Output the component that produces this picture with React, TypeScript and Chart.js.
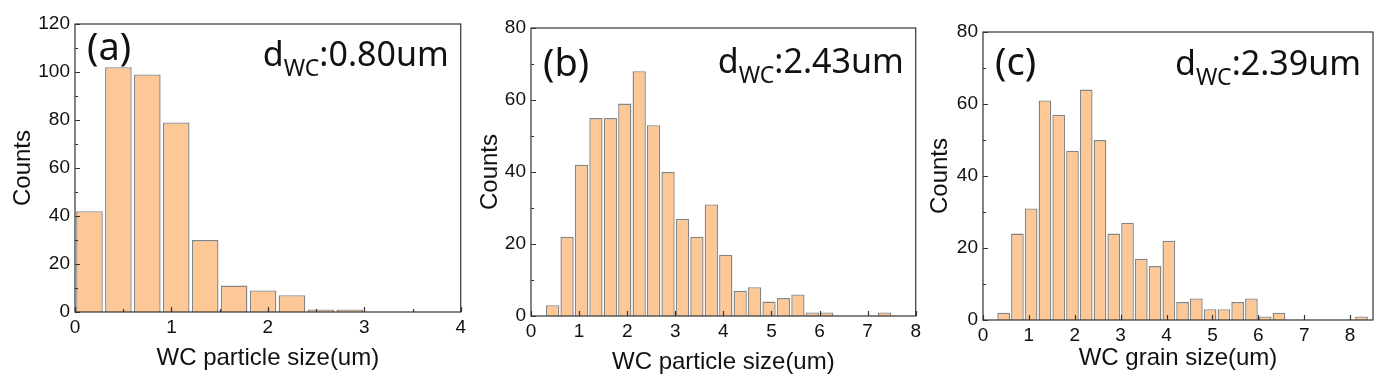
import React, { useEffect, useRef } from "react";
import { Chart, registerables } from "chart.js";

Chart.register(...registerables);

// ---------- data ----------
const binCentersA = [0.15, 0.45, 0.75, 1.05, 1.35, 1.65, 1.95, 2.25, 2.55, 2.85];
const countsA = [42, 102, 99, 79, 30, 11, 9, 7, 1, 1];

const binCentersB = [
  0.45, 0.75, 1.05, 1.35, 1.65, 1.95, 2.25, 2.55, 2.85, 3.15, 3.45, 3.75,
  4.05, 4.35, 4.65, 4.95, 5.25, 5.55, 5.85, 6.15, 6.45, 6.75, 7.05, 7.35,
];
const countsB = [
  3, 22, 42, 55, 55, 59, 68, 53, 40, 27, 22, 31, 17, 7, 8, 4, 5, 6, 1, 1, 0, 0, 0, 1,
];

const binCentersC = [
  0.45, 0.75, 1.05, 1.35, 1.65, 1.95, 2.25, 2.55, 2.85, 3.15, 3.45, 3.75, 4.05,
  4.35, 4.65, 4.95, 5.25, 5.55, 5.85, 6.15, 6.45, 6.75, 7.05, 7.35, 7.65, 7.95, 8.25,
];
const countsC = [
  2, 24, 31, 61, 57, 47, 64, 50, 24, 27, 17, 15, 22, 5, 6, 3, 3, 5, 6, 1, 2, 0, 0, 0, 0, 0, 1,
];

const panelLabels = ["(a)", "(b)", "(c)"];
const meanValues = ["0.80um", "2.43um", "2.39um"];
const xTitles = ["WC particle size(um)", "WC particle size(um)", "WC grain size(um)"];
const yTitle = "Counts";
const xMaxes = [4, 8, 8.5];
const yMaxes = [120, 80, 80];
const yStep = 20;
const xStep = 1;

// ---------- layout (page pixels) ----------
type Layout = {
  left: number;
  width: number;
  yW: number;
  xH: number;
  padTop: number;
  padRight: number;
  yTitlePad: number;
  xTitlePad: number;
  labelBase: number;
  dBase: number;
  xMinor: boolean;
};

const layouts: Layout[] = [
  { left: 0, width: 470, yW: 75, xH: 72, padTop: 24, padRight: 7, yTitlePad: 9, xTitlePad: 11, labelBase: 60, dBase: 66, xMinor: true },
  { left: 470, width: 455, yW: 61, xH: 68, padTop: 28, padRight: 6, yTitlePad: 6, xTitlePad: 7, labelBase: 76, dBase: 73, xMinor: false },
  { left: 925, width: 464, yW: 58, xH: 64, padTop: 32, padRight: 16, yTitlePad: 1, xTitlePad: 11, labelBase: 75, dBase: 75, xMinor: false },
];

const FRAME = "#333333";
const TICK_FONT = { family: "'Liberation Sans', Arial, sans-serif", size: 19 };
const TITLE_FONT = { family: "'Liberation Sans', Arial, sans-serif", size: 24 };
const ANNOT_FAMILY = "'Noto Sans', 'Open Sans', sans-serif";

function makePlugin(idx: number) {
  return {
    id: "frameAndText" + idx,
    afterDraw(chart: any) {
      const { ctx, chartArea } = chart;
      const { left, right, top, bottom } = chartArea;
      const xs = chart.scales.x;
      const ys = chart.scales.y;
      const lay = layouts[idx];
      ctx.save();
      ctx.strokeStyle = FRAME;
      ctx.lineWidth = 1.2;
      // ticks inward
      const xt = xs.ticks.map((t: any) => t.value);
      ctx.beginPath();
      xt.forEach((v: number) => {
        const px = Math.round(xs.getPixelForValue(v)) + 0.5;
        ctx.moveTo(px, bottom);
        ctx.lineTo(px, bottom - 5);
      });
      if (lay.xMinor) {
        for (let i = 0; i < xt.length - 1; i++) {
          const px = Math.round(xs.getPixelForValue((xt[i] + xt[i + 1]) / 2)) + 0.5;
          ctx.moveTo(px, bottom);
          ctx.lineTo(px, bottom - 3);
        }
      }
      const yt = ys.ticks.map((t: any) => t.value);
      yt.forEach((v: number) => {
        const py = Math.round(ys.getPixelForValue(v)) + 0.5;
        ctx.moveTo(left, py);
        ctx.lineTo(left + 5, py);
      });
      for (let i = 0; i < yt.length - 1; i++) {
        const py = Math.round(ys.getPixelForValue((yt[i] + yt[i + 1]) / 2)) + 0.5;
        ctx.moveTo(left, py);
        ctx.lineTo(left + 3, py);
      }
      ctx.stroke();
      // frame
      ctx.strokeRect(left, top, right - left, bottom - top);

      // annotations
      ctx.fillStyle = "#111";
      ctx.textBaseline = "alphabetic";
      ctx.textAlign = "left";
      ctx.font = `38px ${ANNOT_FAMILY}`;
      ctx.fillText(panelLabels[idx], left + 12, lay.labelBase);

      const mainFont = `34px ${ANNOT_FAMILY}`;
      const subFont = `23px ${ANNOT_FAMILY}`;
      ctx.font = mainFont;
      const wD = ctx.measureText("d").width;
      const wRest = ctx.measureText(":" + meanValues[idx]).width;
      ctx.font = subFont;
      const wSub = ctx.measureText("WC").width;
      const total = wD + wSub + wRest;
      let x0 = right - 12 - total;
      ctx.font = mainFont;
      ctx.fillText("d", x0, lay.dBase);
      x0 += wD;
      ctx.font = subFont;
      ctx.fillText("WC", x0, lay.dBase + 10);
      x0 += wSub;
      ctx.font = mainFont;
      ctx.fillText(":" + meanValues[idx], x0, lay.dBase);
      ctx.restore();
    },
  };
}

function Panel({ idx, centers, counts }: { idx: number; centers: number[]; counts: number[] }) {
  const ref = useRef<HTMLCanvasElement | null>(null);
  const lay = layouts[idx];
  useEffect(() => {
    if (!ref.current) return;
    const data = centers.map((c, i) => ({ x: c, y: counts[i] === 0 ? null : counts[i] }));
    const chart = new Chart(ref.current, {
      type: "bar",
      data: {
        datasets: [
          {
            data: data as any,
            backgroundColor: "#FDC896",
            borderColor: "#858585",
            borderWidth: 1.4,
            barPercentage: 0.92,
            categoryPercentage: 1,
          },
        ],
      },
      options: {
        responsive: false,
        animation: false,
        devicePixelRatio: 1,
        layout: { padding: { top: lay.padTop, right: lay.padRight, left: 0, bottom: 0 } },
        plugins: { legend: { display: false }, tooltip: { enabled: false } },
        scales: {
          x: {
            type: "linear",
            min: 0,
            max: xMaxes[idx],
            offset: false,
            grid: { display: false, drawTicks: false },
            border: { display: false },
            ticks: {
              stepSize: xStep,
              includeBounds: false,
              autoSkip: false,
              maxRotation: 0,
              padding: 4,
              color: "#111",
              font: TICK_FONT,
            },
            title: {
              display: true,
              text: xTitles[idx],
              color: "#111",
              font: TITLE_FONT,
              padding: { top: 0, bottom: lay.xTitlePad },
            },
            afterFit: (s: any) => {
              s.height = lay.xH;
            },
          },
          y: {
            type: "linear",
            min: 0,
            max: yMaxes[idx],
            grid: { display: false, drawTicks: false },
            border: { display: false },
            ticks: {
              stepSize: yStep,
              padding: 5,
              color: "#111",
              font: TICK_FONT,
            },
            title: {
              display: true,
              text: yTitle,
              color: "#111",
              font: TITLE_FONT,
              padding: { top: lay.yTitlePad, bottom: 0 },
            },
            afterFit: (s: any) => {
              s.width = lay.yW;
            },
          },
        },
      } as any,
      plugins: [makePlugin(idx)],
    });
    return () => chart.destroy();
  }, []);
  return (
    <div style={{ position: "absolute", left: lay.left, top: 0, width: lay.width, height: 384 }}>
      <canvas ref={ref} width={lay.width} height={384} style={{ display: "block" }} />
    </div>
  );
}

export default function App() {
  return (
    <div style={{ position: "absolute", left: 0, top: 0, width: 1389, height: 384, background: "#fff" }}>
      <Panel idx={0} centers={binCentersA} counts={countsA} />
      <Panel idx={1} centers={binCentersB} counts={countsB} />
      <Panel idx={2} centers={binCentersC} counts={countsC} />
    </div>
  );
}
